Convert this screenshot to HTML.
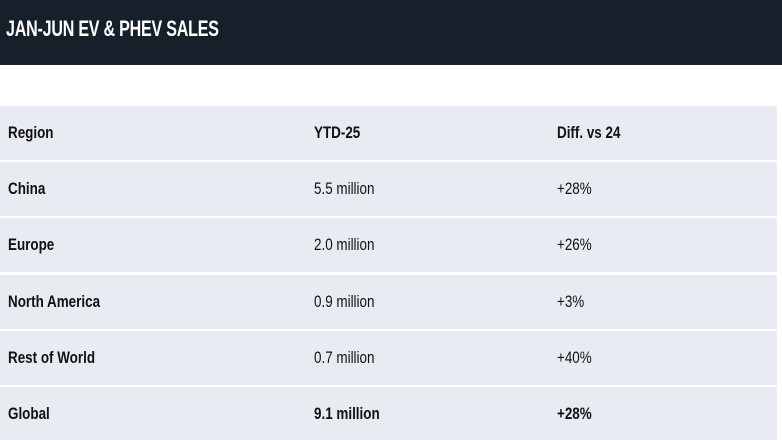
<!DOCTYPE html>
<html><head><style>
body{margin:0;width:782px;height:440px;background:#fff;overflow:hidden;font-family:"Liberation Sans Narrow","Liberation Sans",sans-serif;}
.top{position:absolute;left:0;top:0;width:782px;height:65px;background:#16202a;}
.top span{position:absolute;left:6px;top:16px;color:#fff;font-size:22px;font-weight:bold;letter-spacing:-0.3px;transform:scaleX(0.73);transform-origin:left center;white-space:nowrap;}
.row{position:absolute;left:0;width:777px;height:54px;background:#e8ecf2;font-size:17px;color:#111;}
.row span{position:absolute;top:17px;transform:scaleX(0.79);transform-origin:left center;white-space:nowrap;}
.c1{left:8px;font-weight:bold}.c2{left:314px}.c3{left:557px}
.b span{font-weight:bold}
</style></head><body>
<div class="top"><span>JAN-JUN EV &amp; PHEV SALES</span></div>
<div class="row b" style="top:106px"><span class="c1">Region</span><span class="c2">YTD-25</span><span class="c3">Diff. vs 24</span></div>
<div class="row" style="top:162px"><span class="c1">China</span><span class="c2">5.5 million</span><span class="c3">+28%</span></div>
<div class="row" style="top:218px"><span class="c1">Europe</span><span class="c2">2.0 million</span><span class="c3">+26%</span></div>
<div class="row" style="top:275px"><span class="c1">North America</span><span class="c2">0.9 million</span><span class="c3">+3%</span></div>
<div class="row" style="top:331px"><span class="c1">Rest of World</span><span class="c2">0.7 million</span><span class="c3">+40%</span></div>
<div class="row b" style="top:387px;height:53px"><span class="c1">Global</span><span class="c2">9.1 million</span><span class="c3">+28%</span></div>
</body></html>
